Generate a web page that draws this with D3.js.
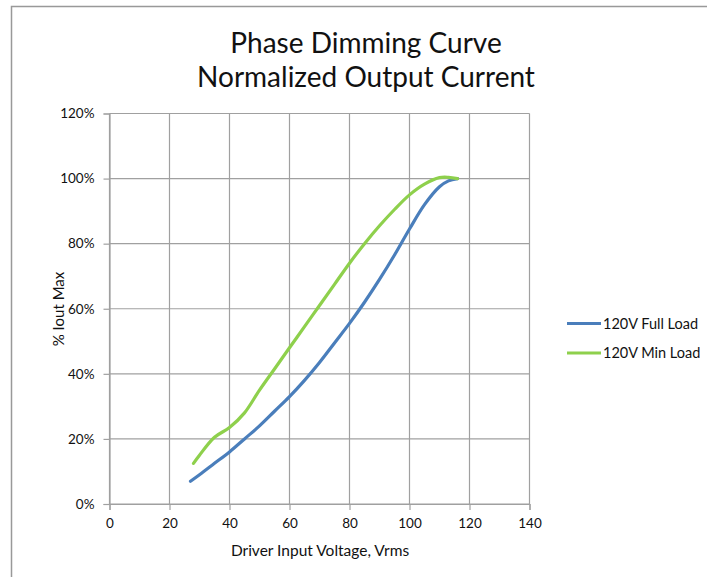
<!DOCTYPE html>
<html><head><meta charset="utf-8">
<script src="https://cdn.jsdelivr.net/npm/d3@7/dist/d3.min.js"></script>
<style>body{margin:0;background:#fff}svg{display:block}</style>
</head><body>
<svg id="c" width="707" height="577"></svg>
<script>
const titleLines = ["Phase Dimming Curve", "Normalized Output Current"];
const xTicks = [0, 20, 40, 60, 80, 100, 120, 140];
const yTicks = [0, 20, 40, 60, 80, 100, 120];
const seriesNames = ["120V Full Load", "120V Min Load"];
const fullX = [27, 30, 35, 40, 45, 50, 55, 60, 65, 70, 75, 80, 85, 90, 95, 100, 105, 110, 113, 116];
const fullY = [7, 9, 12.5, 16, 20, 24, 28.5, 33, 38, 43.5, 49.5, 55.5, 62, 69, 76.5, 84.5, 92, 97.5, 99.3, 100];
const minX = [28, 30, 35, 40, 45, 50, 55, 60, 65, 70, 75, 80, 85, 90, 95, 100, 105, 110, 113, 116];
const minY = [12.5, 15, 20.5, 23.5, 28, 35, 41.5, 48, 54.5, 61, 67.5, 74, 80, 85.5, 90.5, 95, 98.3, 100.3, 100.4, 100];
const colors = ["#4a7ebb", "#8ed04c"];

const svg = d3.select("#c");
const font = "Lato, 'Open Sans', sans-serif";
const grid = "#a0a0a0";

// outer frame
svg.append("path").attr("d", "M11.5,577 V6.5 H707").attr("fill", "none").attr("stroke", "#999").attr("stroke-width", 1.5);

const x = d3.scaleLinear().domain([0, 140]).range([109.5, 529.5]);
const y = d3.scaleLinear().domain([0, 120]).range([504, 113.5]);

// title
svg.append("text").attr("x", 366).attr("y", 53).attr("text-anchor", "middle")
  .attr("font-family", font).attr("font-size", 28).attr("fill", "#111").text(titleLines[0]);
svg.append("text").attr("x", 366).attr("y", 87).attr("text-anchor", "middle")
  .attr("font-family", font).attr("font-size", 28).attr("fill", "#111").text(titleLines[1]);

// grid
const g = svg.append("g");
g.selectAll(".vg").data(xTicks).join("line")
  .attr("x1", d => x(d)).attr("x2", d => x(d)).attr("y1", y(120)).attr("y2", y(0))
  .attr("stroke", grid).attr("stroke-width", 1.2);
g.selectAll(".hg").data(yTicks).join("line")
  .attr("x1", x(0)).attr("x2", x(140)).attr("y1", d => y(d)).attr("y2", d => y(d))
  .attr("stroke", grid).attr("stroke-width", 1.2);

// axes
const xAxis = svg.append("g").attr("transform", `translate(0,${y(0)})`)
  .call(d3.axisBottom(x).tickValues(xTicks).tickSize(6).tickPadding(8).tickFormat(d3.format("d")));
const yAxis = svg.append("g").attr("transform", `translate(${x(0)},0)`)
  .call(d3.axisLeft(y).tickValues(yTicks).tickSize(6).tickPadding(9).tickFormat(d => d + "%"));
[xAxis, yAxis].forEach(a => {
  a.select(".domain").attr("stroke", grid).attr("stroke-width", 1.2);
  a.selectAll(".tick line").attr("stroke", grid).attr("stroke-width", 1.2);
  a.selectAll("text").attr("font-family", font).attr("font-size", 13.5).attr("fill", "#111");
});

// axis titles
svg.append("text").attr("x", 320).attr("y", 556).attr("text-anchor", "middle")
  .attr("font-family", font).attr("font-size", 15.5).attr("fill", "#111").text("Driver Input Voltage, Vrms");
svg.append("text").attr("transform", `translate(64,309) rotate(-90)`).attr("text-anchor", "middle")
  .attr("font-family", font).attr("font-size", 15).attr("fill", "#111").text("% Iout Max");

// lines
const line = d3.line().x(d => x(d[0])).y(d => y(d[1])).curve(d3.curveCatmullRom.alpha(0.5));
const series = [d3.zip(fullX, fullY), d3.zip(minX, minY)];
series.forEach((s, i) => {
  svg.append("path").datum(s).attr("d", line).attr("fill", "none")
    .attr("stroke", colors[i]).attr("stroke-width", 3.2).attr("stroke-linecap", "round");
});

// legend
seriesNames.forEach((n, i) => {
  const ly = 323.5 + i * 29.5;
  svg.append("line").attr("x1", 567).attr("x2", 601).attr("y1", ly).attr("y2", ly)
    .attr("stroke", colors[i]).attr("stroke-width", 3.2);
  svg.append("text").attr("x", 603).attr("y", ly + 5).attr("font-family", font)
    .attr("font-size", 14.5).attr("fill", "#111").text(n);
});
</script>
</body></html>
